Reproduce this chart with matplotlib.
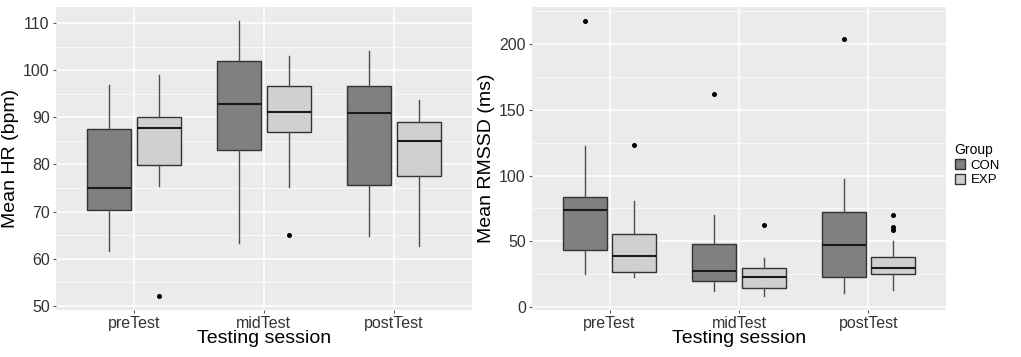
import matplotlib
matplotlib.use('Agg')
import matplotlib.pyplot as plt
from matplotlib.patches import Patch
from matplotlib.ticker import MultipleLocator

plt.rcParams['font.family'] = ['Liberation Sans', 'DejaVu Sans']

sessions = ['preTest', 'midTest', 'postTest']
groups = ['CON', 'EXP']
fills = {'CON': '#808080', 'EXP': '#d0d0d0'}

# box stats per session: (whislo, q1, med, q3, whishi, fliers)
hr_con = [(61.7, 70.3, 74.9, 87.6, 96.8, []),
          (63.3, 83.0, 92.8, 102.0, 110.5, []),
          (64.9, 75.6, 90.8, 96.7, 104.1, [])]
hr_exp = [(75.4, 79.9, 87.7, 90.0, 99.0, [52.0]),
          (75.1, 86.9, 91.2, 96.7, 102.9, [65.1]),
          (62.7, 77.6, 84.9, 89.1, 93.7, [])]

rmssd_con = [(25.3, 43.0, 73.5, 84.1, 122.7, [218.0]),
             (11.9, 19.5, 27.1, 47.9, 69.7, [162.2]),
             (10.6, 22.8, 46.8, 72.2, 97.6, [203.8])]
rmssd_exp = [(22.5, 26.6, 38.5, 55.5, 80.8, [123.4]),
             (8.1, 14.4, 23.0, 29.7, 37.3, [62.4]),
             (13.2, 25.1, 29.6, 37.7, 49.9, [70.2, 60.8, 58.3])]


def to_stats(rows):
    out = []
    for lo, q1, med, q3, hi, fl in rows:
        out.append(dict(whislo=lo, q1=q1, med=med, q3=q3, whishi=hi, fliers=fl))
    return out


def draw(ax, con, exp, ylabel, ylim, major, minor):
    ax.set_facecolor('#ebebeb')
    for s in ax.spines.values():
        s.set_visible(False)
    ax.yaxis.set_major_locator(MultipleLocator(major))
    ax.yaxis.set_minor_locator(MultipleLocator(minor))
    ax.grid(which='major', color='white', lw=1.1)
    ax.grid(which='minor', axis='y', color='white', lw=0.5)
    ax.set_axisbelow(True)
    pos = list(range(1, len(sessions) + 1))
    for data, g, off in [(con, 'CON', -0.19), (exp, 'EXP', 0.19)]:
        ax.bxp(to_stats(data), positions=[p + off for p in pos], widths=0.34,
               showcaps=False, patch_artist=True, manage_ticks=False,
               boxprops=dict(facecolor=fills[g], edgecolor='#333333', lw=1.0),
               whiskerprops=dict(color='#4d4d4d', lw=1.0),
               medianprops=dict(color='#1a1a1a', lw=1.5),
               flierprops=dict(marker='o', markersize=2.6, markerfacecolor='black',
                               markeredgecolor='black'))
    ax.set_xticks(pos)
    ax.set_xticklabels(sessions)
    ax.set_xlim(0.4, 3.6)
    ax.set_ylim(*ylim)
    ax.tick_params(axis='both', which='major', length=2.5, color='#555555',
                   labelsize=11.5, labelcolor='#333333', pad=2)
    ax.tick_params(axis='y', which='minor', length=0)
    ax.set_xlabel('Testing session', fontsize=14, labelpad=-1)
    ax.set_ylabel(ylabel, fontsize=14, labelpad=3)


fig = plt.figure(figsize=(10.21, 3.57), dpi=100)
ax1 = fig.add_axes([0.0548, 0.1317, 0.4074, 0.8487])
ax2 = fig.add_axes([0.5211, 0.1317, 0.4055, 0.8487])

draw(ax1, hr_con, hr_exp, 'Mean HR (bpm)', (49.1, 113.4), 10, 5)
draw(ax2, rmssd_con, rmssd_exp, 'Mean RMSSD (ms)', (-2.3, 228.4), 50, 25)

handles = [Patch(facecolor=fills[g], edgecolor='#333333', label=g) for g in groups]
leg = fig.legend(handles=handles, title='Group', loc='upper left',
                 bbox_to_anchor=(0.926, 0.625), frameon=False, fontsize=9.5,
                 title_fontsize=10, handlelength=0.8, handleheight=0.8,
                 handletextpad=0.4, labelspacing=0.15, borderpad=0.2,
                 alignment='left')
leg._legend_box.align = 'left'

fig.savefig('out.png', dpi=100)
